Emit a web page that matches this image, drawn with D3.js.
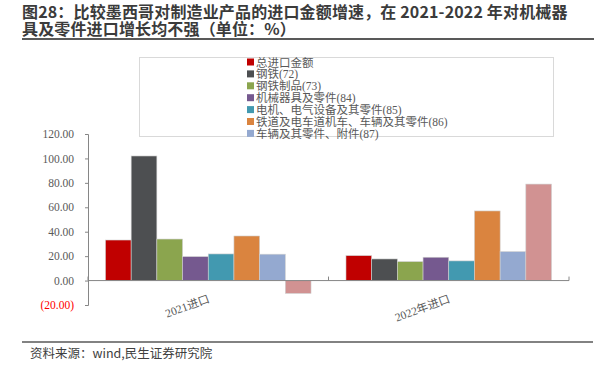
<!DOCTYPE html>
<html>
<head>
<meta charset="utf-8">
<script src="https://cdn.jsdelivr.net/npm/d3@7"></script>
<style>
  body { margin: 0; background: #fff; }
  svg { display: block; }
</style>
</head>
<body>
<script>
// data
var categories = ["2021进口", "2022年进口"];
var seriesNames = ["总进口金额", "钢铁(72)", "钢铁制品(73)", "机械器具及零件(84)",
                   "电机、电气设备及其零件(85)", "铁道及电车道机车、车辆及其零件(86)",
                   "车辆及其零件、附件(87)", "其他"];
var values2021 = [33.2, 102.0, 34.0, 19.6, 21.8, 36.5, 21.6, -10.5];
var values2022 = [20.4, 17.7, 15.5, 19.1, 16.1, 57.0, 23.7, 79.0];
var yTicks = [-20, 0, 20, 40, 60, 80, 100, 120];
var colors = ["#C00000", "#4D4F51", "#8BA54E", "#75598F", "#4299B0", "#DA843F", "#94A9D0", "#D19292"];
var legendCount = 7; // the pink series has no legend entry in the original

var w = 600, h = 366;
var plotLeft = 88, plotRight = 569, plotTop = 134, plotBottom = 305;
var cjk = "'Liberation Serif', 'Noto Sans CJK SC', serif";
var sans = "'Noto Sans CJK SC', 'Noto Sans', sans-serif";

var svg = d3.select("body")
    .append("svg")
    .attr("width", w)
    .attr("height", h);

// title + rule under it
var title = svg.append("text")
    .attr("font-family", sans)
    .attr("font-weight", "bold")
    .attr("font-size", "16px")
    .attr("letter-spacing", "0.15px")
    .attr("fill", "#3b3b3b");
title.append("tspan").attr("x", 22).attr("y", 18)
    .text("图28：比较墨西哥对制造业产品的进口金额增速，在 2021-2022 年对机械器");
title.append("tspan").attr("x", 22).attr("y", 34.5)
    .text("具及零件进口增长均不强（单位：%）");

svg.append("line")
    .attr("x1", 22).attr("x2", 594)
    .attr("y1", 39).attr("y2", 39)
    .attr("stroke", "#595959")
    .attr("stroke-width", 2);

// scales
var yScale = d3.scaleLinear()
    .domain([-20, 120])
    .range([plotBottom, plotTop]);
var xScale = d3.scaleBand()
    .domain(categories)
    .range([plotLeft, plotRight]);
var x1 = d3.scaleBand()
    .domain(d3.range(seriesNames.length))
    .range([0, xScale.bandwidth()])
    .paddingOuter(0.68);

// y axis
var yAxis = d3.axisLeft(yScale)
    .tickValues(yTicks)
    .tickSize(3)
    .tickPadding(11)
    .tickFormat(function(d) {
        return d < 0 ? "(" + d3.format(".2f")(-d) + ")" : d3.format(".2f")(d);
    });
var gy = svg.append("g")
    .attr("transform", "translate(" + plotLeft + ",0)")
    .call(yAxis);
gy.select(".domain").attr("stroke", "#868686");
gy.selectAll(".tick line").attr("stroke", "#868686");
gy.selectAll(".tick text")
    .attr("font-family", "'Liberation Serif', serif")
    .attr("font-size", "11.5px")
    .attr("fill", function(d) { return d < 0 ? "#FF0000" : "#595959"; });

// bars
var rows = [values2021, values2022];
var groups = svg.append("g")
    .selectAll("g")
    .data(categories)
    .enter()
    .append("g")
    .attr("transform", function(d) { return "translate(" + xScale(d) + ",0)"; });

groups.selectAll("rect")
    .data(function(d, i) {
        return rows[i].map(function(v, j) { return { s: j, value: v }; });
    })
    .enter()
    .append("rect")
    .attr("x", function(d) { return x1(d.s); })
    .attr("width", x1.bandwidth())
    .attr("y", function(d) { return yScale(Math.max(0, d.value)); })
    .attr("height", function(d) { return Math.abs(yScale(d.value) - yScale(0)); })
    .attr("fill", function(d) { return colors[d.s]; })
    .attr("stroke", "#d0d0d0")
    .attr("stroke-width", 0.6);

// x axis at zero, ticks pointing up
var xAxisY = yScale(0);
svg.append("line")
    .attr("x1", plotLeft).attr("x2", plotRight)
    .attr("y1", xAxisY).attr("y2", xAxisY)
    .attr("stroke", "#868686");
var xTickPos = [plotLeft].concat(categories.map(function(c) { return xScale(c) + xScale.bandwidth(); }));
svg.selectAll("line.xtick")
    .data(xTickPos)
    .enter()
    .append("line")
    .classed("xtick", true)
    .attr("x1", function(d) { return d; }).attr("x2", function(d) { return d; })
    .attr("y1", xAxisY).attr("y2", xAxisY - 4)
    .attr("stroke", "#868686");

// rotated category labels
svg.selectAll("text.xlab")
    .data(categories)
    .enter()
    .append("text")
    .classed("xlab", true)
    .attr("transform", function(d) {
        return "translate(" + (xScale(d) + xScale.bandwidth() / 2 + 2) + "," + 302 + ") rotate(-20)";
    })
    .attr("text-anchor", "end")
    .attr("font-family", cjk)
    .attr("font-size", "11.5px")
    .attr("fill", "#595959")
    .text(function(d) { return d; });

// legend box
svg.append("rect")
    .attr("x", 139.5).attr("y", 57.5)
    .attr("width", 414).attr("height", 79)
    .attr("fill", "none")
    .attr("stroke", "#d9d9d9");

var legend = svg.append("g")
    .selectAll("g")
    .data(seriesNames.slice(0, legendCount))
    .enter()
    .append("g")
    .attr("transform", function(d, i) { return "translate(247," + (62 + i * 11.9) + ")"; });
legend.append("rect")
    .attr("x", 0).attr("y", -3.5)
    .attr("width", 7).attr("height", 7)
    .attr("fill", function(d, i) { return colors[i]; });
legend.append("text")
    .attr("x", 9)
    .attr("y", 4.5)
    .attr("font-family", cjk)
    .attr("font-size", "11.5px")
    .attr("fill", "#595959")
    .text(function(d) { return d; });

// footer
svg.append("line")
    .attr("x1", 22).attr("x2", 593)
    .attr("y1", 342).attr("y2", 342)
    .attr("stroke", "#595959")
    .attr("stroke-width", 1.5);
svg.append("text")
    .attr("x", 30)
    .attr("y", 358)
    .attr("font-family", sans)
    .attr("font-size", "12.5px")
    .attr("fill", "#404040")
    .text("资料来源：wind,民生证券研究院");
</script>
</body>
</html>
